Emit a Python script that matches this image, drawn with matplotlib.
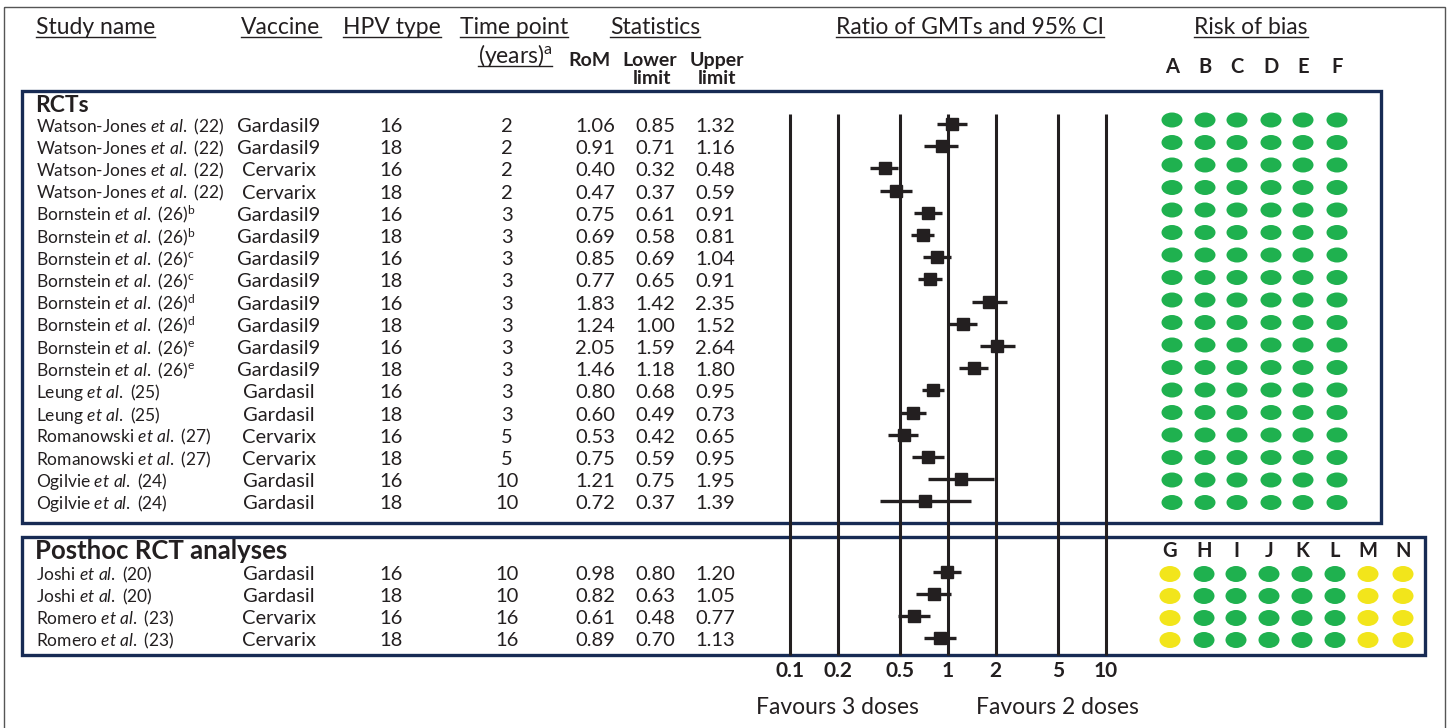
import matplotlib.pyplot as plt
from matplotlib.patches import Ellipse, Rectangle

plt.rcParams['font.family'] = ['Lato', 'DejaVu Sans']
plt.rcParams['mathtext.fontset'] = 'custom'
plt.rcParams['mathtext.rm'] = 'Lato'
plt.rcParams['mathtext.it'] = 'Lato:italic'

# ---- data ----
rct_authors = ['Watson-Jones'] * 4 + ['Bornstein'] * 8 + ['Leung'] * 2 + ['Romanowski'] * 2 + ['Ogilvie'] * 2
rct_refs = ['22'] * 4 + ['26'] * 8 + ['25'] * 2 + ['27'] * 2 + ['24'] * 2
rct_notes = ['', '', '', '', 'b', 'b', 'c', 'c', 'd', 'd', 'e', 'e', '', '', '', '', '', '']
rct_vaccine = ['Gardasil9', 'Gardasil9', 'Cervarix', 'Cervarix'] + ['Gardasil9'] * 8 + \
              ['Gardasil', 'Gardasil', 'Cervarix', 'Cervarix', 'Gardasil', 'Gardasil']
rct_hpv = [16, 18] * 9
rct_time = [2, 2, 2, 2, 3, 3, 3, 3, 3, 3, 3, 3, 3, 3, 5, 5, 10, 10]
rct_rom = [1.06, 0.91, 0.40, 0.47, 0.75, 0.69, 0.85, 0.77, 1.83, 1.24, 2.05, 1.46, 0.80, 0.60, 0.53, 0.75, 1.21, 0.72]
rct_lo = [0.85, 0.71, 0.32, 0.37, 0.61, 0.58, 0.69, 0.65, 1.42, 1.00, 1.59, 1.18, 0.68, 0.49, 0.42, 0.59, 0.75, 0.37]
rct_hi = [1.32, 1.16, 0.48, 0.59, 0.91, 0.81, 1.04, 0.91, 2.35, 1.52, 2.64, 1.80, 0.95, 0.73, 0.65, 0.95, 1.95, 1.39]

ph_authors = ['Joshi', 'Joshi', 'Romero', 'Romero']
ph_refs = ['20', '20', '23', '23']
ph_vaccine = ['Gardasil', 'Gardasil', 'Cervarix', 'Cervarix']
ph_hpv = [16, 18, 16, 18]
ph_time = [10, 10, 16, 16]
ph_rom = [0.98, 0.82, 0.61, 0.89]
ph_lo = [0.80, 0.63, 0.48, 0.70]
ph_hi = [1.20, 1.05, 0.77, 1.13]

rct_domains = ['A', 'B', 'C', 'D', 'E', 'F']
rct_bias = [['low'] * 6 for _ in range(18)]
ph_domains = ['G', 'H', 'I', 'J', 'K', 'L', 'M', 'N']
ph_bias = [['some', 'low', 'low', 'low', 'low', 'low', 'some', 'some'] for _ in range(4)]

ticks = [0.1, 0.2, 0.5, 1, 2, 5, 10]
tick_labels = ['0.1', '0.2', '0.5', '1', '2', '5', '10']

# ---- layout (pixels) ----
W, H = 1449, 728
INK = '#231f20'
NAVY = '#172b54'
bias_col = {'low': '#1fb14f', 'some': '#f2e51b'}
rct_y = [126 + 22.2 * i for i in range(len(rct_rom))]
ph_y = [574 + 22 * i for i in range(len(ph_rom))]

fig = plt.figure(figsize=(W / 100, H / 100), dpi=100)
ax = fig.add_axes([0, 0, 1, 1])
ax.set_xlim(0, W)
ax.set_ylim(H, 0)
ax.axis('off')

# outer frame and the two group boxes
ax.add_patch(Rectangle((4, 7), 1441, 740, fill=False, ec='#555555', lw=1.0))
ax.add_patch(Rectangle((22, 91), 1359, 432, fill=False, ec=NAVY, lw=2.4))
ax.add_patch(Rectangle((22, 537), 1403, 118, fill=False, ec=NAVY, lw=2.4))

# headers
headers = [('Study name', 36, 'left'), ('Vaccine', 281, 'center'), ('HPV type', 392, 'center'),
           ('Time point', 514, 'center'), ('Statistics', 655, 'center'),
           ('Ratio of GMTs and 95% CI', 970, 'center'), ('Risk of bias', 1251, 'center')]
head_txt = []
for label, x, ha in headers:
    head_txt.append(ax.text(x, 34, label, ha=ha, va='baseline', fontsize=16.5, color=INK))
head_txt.append(ax.text(515, 63, r'(years)$^{\rm a}$', ha='center', va='baseline', fontsize=16.5, color=INK))
for label, x, y in [('RoM', 590, 66), ('Lower', 650, 66), ('Upper', 717, 66), ('limit', 652, 84), ('limit', 717, 84)]:
    ax.text(x, y, label, ha='center', va='baseline', fontsize=14, weight='bold', color=INK)

ax.text(35, 112, 'RCTs', ha='left', va='baseline', fontsize=16.5, weight='bold', color=INK)
ax.text(35, 559, 'Posthoc RCT analyses', ha='left', va='baseline', fontsize=18.5, weight='bold', color=INK)


def study_label(author, ref, note):
    s = author + r' $\mathit{et\ al.}$ (' + ref + ')'
    if note:
        s += r'$^{\rm ' + note + '}$'
    return s


def table_rows(ys, authors, refs, notes, vaccine, hpv, time, rom, lo, hi):
    for i, y in enumerate(ys):
        b = y + 6
        ax.text(36, b, study_label(authors[i], refs[i], notes[i]), ha='left', va='baseline',
                fontsize=12.5, color=INK)
        ax.text(279, b, vaccine[i], ha='center', va='baseline', fontsize=14.5, color=INK)
        ax.text(391, b, str(hpv[i]), ha='center', va='baseline', fontsize=14.5, color=INK)
        ax.text(507, b, str(time[i]), ha='center', va='baseline', fontsize=14.5, color=INK)
        ax.text(595, b, f'{rom[i]:.2f}', ha='center', va='baseline', fontsize=14.5, color=INK)
        ax.text(655, b, f'{lo[i]:.2f}', ha='center', va='baseline', fontsize=14.5, color=INK)
        ax.text(715, b, f'{hi[i]:.2f}', ha='center', va='baseline', fontsize=14.5, color=INK)


table_rows(rct_y, rct_authors, rct_refs, rct_notes, rct_vaccine, rct_hpv, rct_time, rct_rom, rct_lo, rct_hi)
table_rows(ph_y, ph_authors, ph_refs, [''] * 4, ph_vaccine, ph_hpv, ph_time, ph_rom, ph_lo, ph_hi)

# risk of bias dots
rct_dx = [1172, 1205, 1237, 1271, 1303, 1337]
ph_dx = [1170, 1204, 1236, 1269, 1302, 1335, 1368, 1403]
for j, d in enumerate(rct_domains):
    ax.text(rct_dx[j], 73, d, ha='center', va='baseline', fontsize=14.5, weight='bold', color=INK)
for j, d in enumerate(ph_domains):
    ax.text(ph_dx[j], 557, d, ha='center', va='baseline', fontsize=14.5, weight='bold', color=INK)
for i, y in enumerate(rct_y):
    for j, v in enumerate(rct_bias[i]):
        ax.add_patch(Ellipse((rct_dx[j], y - 6 + 0.3 * i), 21, 15, color=bias_col[v], lw=0))
for i, y in enumerate(ph_y):
    for j, v in enumerate(ph_bias[i]):
        ax.add_patch(Ellipse((ph_dx[j], y), 21, 16, color=bias_col[v], lw=0))

# forest plot on a log axis
fx = fig.add_axes([790 / W, 0, 316 / W, 1])
fx.set_xscale('log')
fx.set_xlim(0.1, 10)
fx.set_ylim(H, 0)
fx.axis('off')
fx.vlines(ticks, 114, 655, color=INK, lw=2.2, clip_on=False)
for ys, rom, lo, hi in [(rct_y, rct_rom, rct_lo, rct_hi), (ph_y, ph_rom, ph_lo, ph_hi)]:
    ys_f = [y - 2 for y in ys]
    err = [[r - l for r, l in zip(rom, lo)], [h - r for r, h in zip(rom, hi)]]
    fx.errorbar(rom, ys_f, xerr=err, fmt='s', ms=8.5, color=INK, elinewidth=2.4, capsize=0, clip_on=False)
for t, lab in zip(ticks, tick_labels):
    fx.text(t, 677, lab, ha='center', va='baseline', fontsize=15, weight='bold', color=INK)
fx.text(0.2, 714, 'Favours 3 doses', ha='center', va='baseline', fontsize=16.5, color=INK)
fx.text(4.9, 714, 'Favours 2 doses', ha='center', va='baseline', fontsize=16.5, color=INK)

# underline the headers
fig.canvas.draw()
inv = ax.transData.inverted()
for t in head_txt:
    bb = t.get_window_extent()
    (x0, y0), (x1, y1) = inv.transform([[bb.x0, bb.y0], [bb.x1, bb.y1]])
    yb = t.get_position()[1] + 3
    ax.plot([x0, x1], [yb, yb], color=INK, lw=1.0)

fig.savefig('out.png', dpi=100)
